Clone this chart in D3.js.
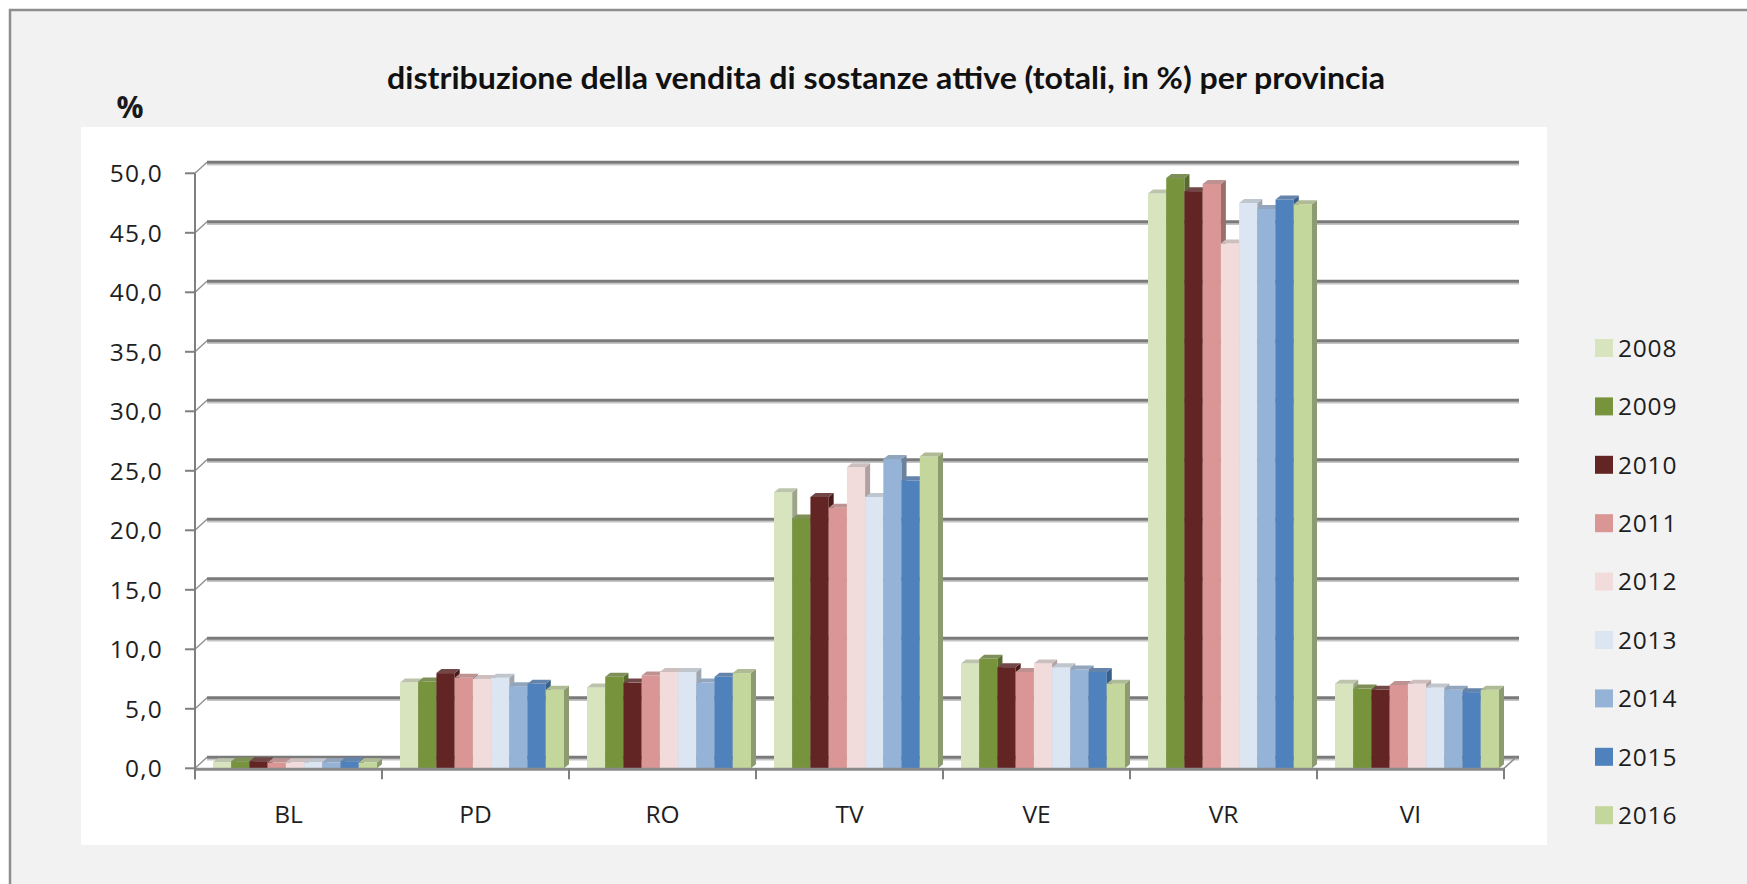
<!DOCTYPE html>
<html>
<head>
<meta charset="utf-8">
<script src="https://cdn.jsdelivr.net/npm/d3@7"></script>
<style>
  html, body { margin: 0; padding: 0; background: #ffffff; }
  svg { display: block; }
</style>
</head>
<body>
<svg id="chart" width="1747" height="884"></svg>
<script>
// ---- data ----
const categories = ["BL", "PD", "RO", "TV", "VE", "VR", "VI"];
const years = ["2008", "2009", "2010", "2011", "2012", "2013", "2014", "2015", "2016"];
const v2008 = [0.5, 7.2, 6.8, 23.2, 8.8, 48.3, 7.1];
const v2009 = [0.6, 7.3, 7.7, 21.0, 9.2, 49.6, 6.7];
const v2010 = [0.6, 8.0, 7.2, 22.8, 8.5, 48.5, 6.6];
const v2011 = [0.5, 7.6, 7.8, 21.9, 8.1, 49.1, 7.0];
const v2012 = [0.5, 7.5, 8.1, 25.3, 8.8, 44.1, 7.1];
const v2013 = [0.5, 7.6, 8.1, 22.8, 8.5, 47.5, 6.8];
const v2014 = [0.5, 6.9, 7.2, 26.0, 8.3, 47.0, 6.6];
const v2015 = [0.6, 7.1, 7.7, 24.2, 8.1, 47.8, 6.4];
const v2016 = [0.5, 6.6, 8.0, 26.2, 7.1, 47.4, 6.6];
const seriesValues = [v2008, v2009, v2010, v2011, v2012, v2013, v2014, v2015, v2016];
const yTicks = [0, 5, 10, 15, 20, 25, 30, 35, 40, 45, 50];
const colors = ["#d7e4bd", "#77933c", "#632523", "#d99694", "#f2dcdb", "#dce6f2", "#95b3d7", "#4f81bd", "#c3d69b"];
const titleText = "distribuzione della vendita di sostanze attive (totali, in %) per provincia";

// ---- layout ----
const svg = d3.select("#chart");
const axisLeft = 195, axisRight = 1504;
const y = d3.scaleLinear().domain([0, 50]).range([768.3, 173.3]);
const x0 = d3.scaleBand().domain(categories).range([axisLeft, axisRight]).padding(0);
const x1 = d3.scaleBand().domain(years).range([18, 182]).padding(0);
const wallDx = 12, wallDy = 11;   // depth of the 3D walls
const barDx = 5, barDy = 4;       // depth of each bar
const fmt = v => d3.format(".1f")(v).replace(".", ",");

// outer background + frame
svg.append("rect").attr("x", 10).attr("y", 10).attr("width", 1800).attr("height", 900)
  .attr("fill", "#f2f2f2").attr("stroke", "#8e8e8e").attr("stroke-width", 2.5);
// plot area
svg.append("rect").attr("x", 81).attr("y", 127).attr("width", 1466).attr("height", 718)
  .attr("fill", "#ffffff");

// title
svg.append("text").attr("x", 886).attr("y", 89).attr("text-anchor", "middle")
  .attr("font-family", "Lato, 'Open Sans', sans-serif").attr("font-weight", "bold")
  .attr("font-size", 31).attr("fill", "#111111")
  .attr("textLength", 998).attr("lengthAdjust", "spacingAndGlyphs")
  .text(titleText);

// % unit label
svg.append("text").attr("x", 130).attr("y", 118).attr("text-anchor", "middle")
  .attr("font-family", "'Open Sans', sans-serif").attr("font-weight", "bold")
  .attr("font-size", 30).attr("fill", "#1a1a1a").text("%");

// back wall gridlines with small side-wall connectors
const grid = svg.append("g");
yTicks.forEach(t => {
  const yf = y(t), yb = y(t) - wallDy;
  grid.append("line").attr("x1", axisLeft + wallDx).attr("x2", axisRight + wallDx + 3)
    .attr("y1", yb + 2.2).attr("y2", yb + 2.2).attr("stroke", "#c4c4c4").attr("stroke-width", 1.8);
  grid.append("line").attr("x1", axisLeft + wallDx).attr("x2", axisRight + wallDx + 3)
    .attr("y1", yb).attr("y2", yb).attr("stroke", "#7a7a7a").attr("stroke-width", 3);
  grid.append("line").attr("x1", axisLeft).attr("x2", axisLeft + wallDx)
    .attr("y1", yf).attr("y2", yb).attr("stroke", "#909090").attr("stroke-width", 1.4);
});

// floor edges
svg.append("line").attr("x1", axisRight).attr("x2", axisRight + wallDx)
  .attr("y1", y(0)).attr("y2", y(0) - wallDy).attr("stroke", "#909090").attr("stroke-width", 1.6);

// bars
const barsG = svg.append("g");
categories.forEach((cat, ci) => {
  years.forEach((yr, si) => {
    const v = seriesValues[si][ci];
    const xl = x0(cat) + x1(yr), w = x1.bandwidth();
    const xr = xl + w, yt = y(v), yb0 = y(0);
    const c = colors[si];
    const g = barsG.append("g");
    // front face
    g.append("rect").attr("x", xl).attr("y", yt).attr("width", w).attr("height", yb0 - yt)
      .attr("fill", c);
    // side face
    g.append("path").attr("d", `M${xr},${yt} L${xr + barDx},${yt - barDy} L${xr + barDx},${yb0 - barDy} L${xr},${yb0} Z`)
      .attr("fill", d3.color(c).darker(0.9).formatHex());
    // top face
    g.append("path").attr("d", `M${xl},${yt} L${xl + barDx},${yt - barDy} L${xr + barDx},${yt - barDy} L${xr},${yt} Z`)
      .attr("fill", d3.interpolateRgb(c, "#8a8a8a")(0.35));
  });
});

// front x axis (floor front edge)
svg.append("line").attr("x1", axisLeft).attr("x2", axisRight + 1)
  .attr("y1", y(0) + 1).attr("y2", y(0) + 1).attr("stroke", "#8a8a8a").attr("stroke-width", 3);

// y axis line + ticks + labels
svg.append("line").attr("x1", axisLeft).attr("x2", axisLeft).attr("y1", y(50)).attr("y2", y(0) + 11)
  .attr("stroke", "#7f7f7f").attr("stroke-width", 2);
yTicks.forEach(t => {
  svg.append("line").attr("x1", axisLeft - 10).attr("x2", axisLeft).attr("y1", y(t)).attr("y2", y(t))
    .attr("stroke", "#7f7f7f").attr("stroke-width", 2);
  svg.append("text").attr("x", 163).attr("y", y(t)).attr("dy", "0.36em").attr("text-anchor", "end")
    .attr("font-family", "'Open Sans', sans-serif").attr("font-size", 24.5).attr("letter-spacing", 1.2)
    .attr("fill", "#1e1e1e").text(fmt(t));
});

// x ticks + category labels
const xBounds = categories.map(c => x0(c)).concat([axisRight]);
xBounds.forEach(xb => {
  svg.append("line").attr("x1", xb).attr("x2", xb).attr("y1", y(0)).attr("y2", y(0) + 11)
    .attr("stroke", "#7f7f7f").attr("stroke-width", 2);
});
categories.forEach(cat => {
  svg.append("text").attr("x", x0(cat) + x0.bandwidth() / 2).attr("y", 823).attr("text-anchor", "middle")
    .attr("font-family", "'Open Sans', sans-serif").attr("font-size", 24.5)
    .attr("fill", "#1e1e1e").text(cat);
});

// legend
const legend = svg.append("g");
years.forEach((yr, i) => {
  const cy = 348 + i * 58.4;
  legend.append("rect").attr("x", 1595).attr("y", cy - 9).attr("width", 18).attr("height", 18)
    .attr("fill", colors[i]);
  legend.append("text").attr("x", 1618).attr("y", cy).attr("dy", "0.36em")
    .attr("font-family", "'Open Sans', sans-serif").attr("font-size", 24.5).attr("letter-spacing", 0.8)
    .attr("fill", "#1e1e1e").text(yr);
});
</script>
</body>
</html>
